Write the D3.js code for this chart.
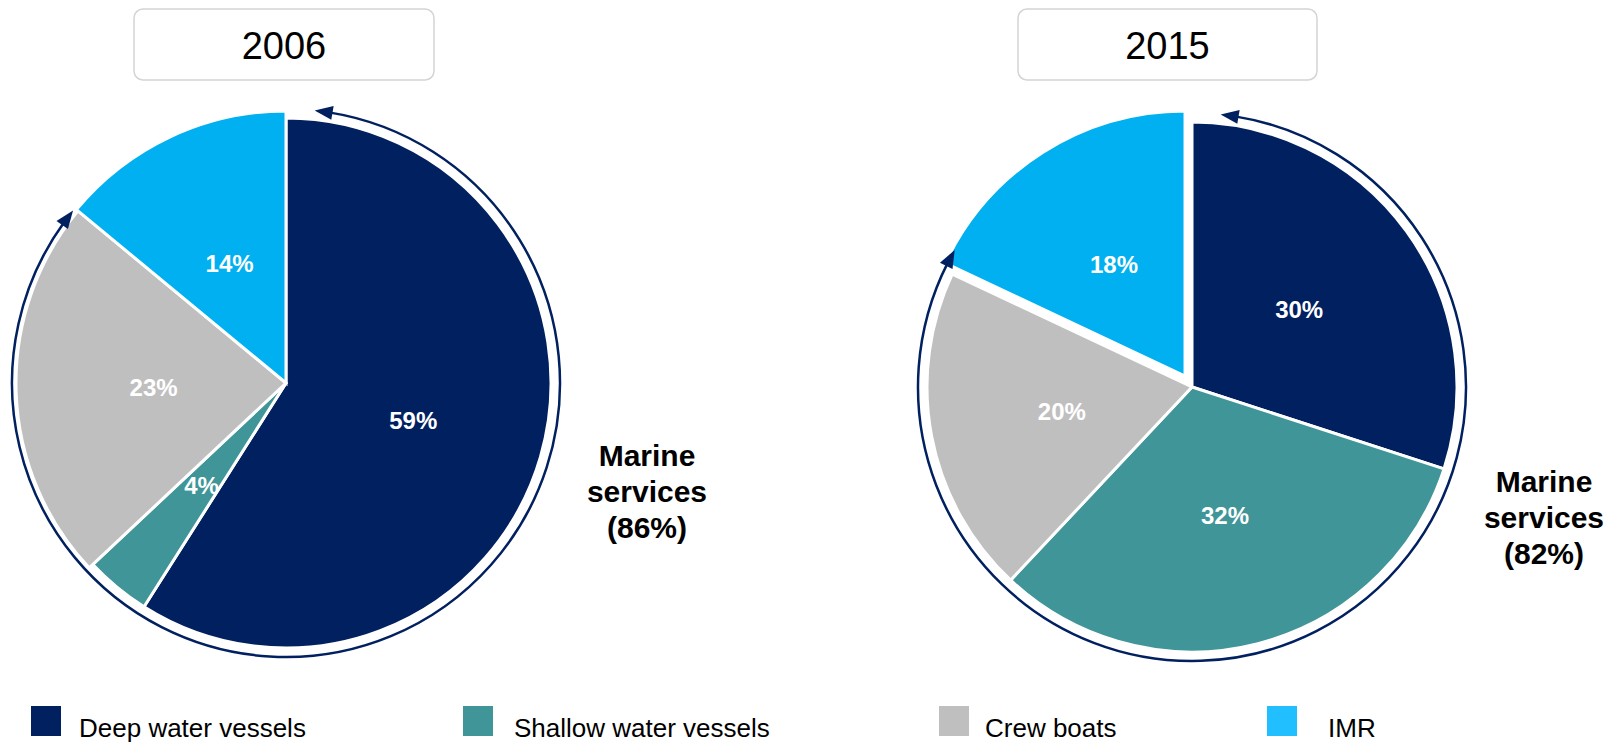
<!DOCTYPE html>
<html>
<head>
<meta charset="utf-8">
<script src="https://cdn.jsdelivr.net/npm/d3@7"></script>
<style>
  body { margin: 0; background: #fff; }
</style>
</head>
<body>
<script>
const width = 1608;
const height = 744;

// data
const categories = ["Deep water vessels", "Shallow water vessels", "Crew boats", "IMR"];
const years = ["2006", "2015"];
const share2006 = [59, 4, 23, 14];
const share2015 = [30, 32, 20, 18];
const marineShare = [86, 82];

const pieColors = ["#002060", "#409598", "#bfbfbf", "#00b0f0"];
const legendColors = ["#002060", "#409598", "#bfbfbf", "#21bfff"];

// layout of the two pies
const pies = [
  { year: years[0], values: share2006, marine: marineShare[0],
    cx: 286, cy: 383, explode: [0, 0, 0, 0], grow: [0, 0, 5, 7], arrowEnd: 309,
    box: { x: 134, w: 300 }, label: { x: 647, y: 466 } },
  { year: years[1], values: share2015, marine: marineShare[1],
    cx: 1192, cy: 387, explode: [0, 0, 0, 13], grow: [0, 0, 0, 0], arrowEnd: 300,
    box: { x: 1018, w: 299 }, label: { x: 1544, y: 492 } }
];

const radius = 265;
const arrowRadius = 274;
const font = "Liberation Sans, Arial, Helvetica, sans-serif";

const svg = d3.select("body")
  .append("svg")
  .attr("width", width)
  .attr("height", height);

pies.forEach(p => {
  appendTitle(svg, p);
  appendPie(svg, p);
  appendArrow(svg, p);
  appendMarineLabel(svg, p);
});
appendLegend(svg);

function appendTitle(svg, p) {
  svg.append("rect")
    .attr("x", p.box.x)
    .attr("y", 9)
    .attr("width", p.box.w)
    .attr("height", 71)
    .attr("rx", 9)
    .attr("fill", "#fff")
    .attr("stroke", "#d4d4d4")
    .attr("stroke-width", 1.5);

  svg.append("text")
    .attr("x", p.box.x + p.box.w / 2)
    .attr("y", 59)
    .attr("text-anchor", "middle")
    .style("font-family", font)
    .style("font-size", "38px")
    .attr("fill", "#000")
    .text(p.year);
}

function appendPie(svg, p) {
  const pie = d3.pie().sort(null).value(d => d)(p.values);
  const arc = d3.arc().innerRadius(0).outerRadius(radius);

  const g = svg.append("g")
    .attr("transform", `translate(${p.cx},${p.cy})`);

  const slices = g.selectAll("g.slice")
    .data(pie)
    .enter()
    .append("g")
    .attr("class", "slice")
    .attr("transform", (d, i) => {
      // push some slices out along their middle angle
      const mid = (d.startAngle + d.endAngle) / 2;
      const off = p.explode[i];
      return `translate(${Math.sin(mid) * off},${-Math.cos(mid) * off})`;
    });

  slices.append("path")
    .attr("d", (d, i) => arc.outerRadius(radius + p.grow[i])(d))
    .attr("fill", (d, i) => pieColors[i])
    .attr("stroke", "#fff")
    .attr("stroke-width", 3)
    .attr("stroke-linejoin", "miter");

  arc.outerRadius(radius);
  slices.append("text")
    .attr("transform", d => `translate(${arc.centroid(d)})`)
    .attr("dy", "0.36em")
    .attr("text-anchor", "middle")
    .style("font-family", font)
    .style("font-size", "24px")
    .style("font-weight", "bold")
    .attr("fill", "#fff")
    .text(d => d.data + "%");
}

function appendArrow(svg, p) {
  const g = svg.append("g")
    .attr("transform", `translate(${p.cx},${p.cy})`);

  const a0 = 6 * Math.PI / 180;
  const a1 = p.arrowEnd * Math.PI / 180;
  const headLen = 18;
  const headHalf = 7;
  const da = headLen / arrowRadius;

  const line = d3.arc()
    .innerRadius(arrowRadius)
    .outerRadius(arrowRadius)
    .startAngle(a0 + da * 0.8)
    .endAngle(a1 - da * 0.8);

  g.append("path")
    .attr("d", line())
    .attr("fill", "none")
    .attr("stroke", "#002060")
    .attr("stroke-width", 2.5);

  // arrow heads at both ends, pointing away from the arc
  function head(tipAngle, baseAngle) {
    const pt = (a, r) => [Math.sin(a) * r, -Math.cos(a) * r];
    const tip = pt(tipAngle, arrowRadius);
    const b1 = pt(baseAngle, arrowRadius - headHalf);
    const b2 = pt(baseAngle, arrowRadius + headHalf);
    g.append("path")
      .attr("d", `M${tip}L${b1}L${b2}Z`)
      .attr("fill", "#002060");
  }
  head(a0, a0 + da);
  head(a1, a1 - da);
}

function appendMarineLabel(svg, p) {
  const lines = ["Marine", "services", `(${p.marine}%)`];
  svg.append("text")
    .attr("text-anchor", "middle")
    .style("font-family", font)
    .style("font-size", "30px")
    .style("font-weight", "bold")
    .attr("fill", "#000")
    .selectAll("tspan")
    .data(lines)
    .enter()
    .append("tspan")
    .attr("x", p.label.x)
    .attr("y", (d, i) => p.label.y + i * 36)
    .text(d => d);
}

function appendLegend(svg) {
  const xs = [31, 463, 939, 1267];
  const textXs = [79, 514, 985, 1328];

  const items = svg.selectAll("g.legend")
    .data(categories)
    .enter()
    .append("g")
    .attr("class", "legend");

  items.append("rect")
    .attr("x", (d, i) => xs[i])
    .attr("y", 706)
    .attr("width", 30)
    .attr("height", 30)
    .attr("fill", (d, i) => legendColors[i]);

  items.append("text")
    .attr("x", (d, i) => textXs[i])
    .attr("y", 737)
    .style("font-family", font)
    .style("font-size", "26px")
    .attr("fill", "#000")
    .text(d => d);
}
</script>
</body>
</html>
